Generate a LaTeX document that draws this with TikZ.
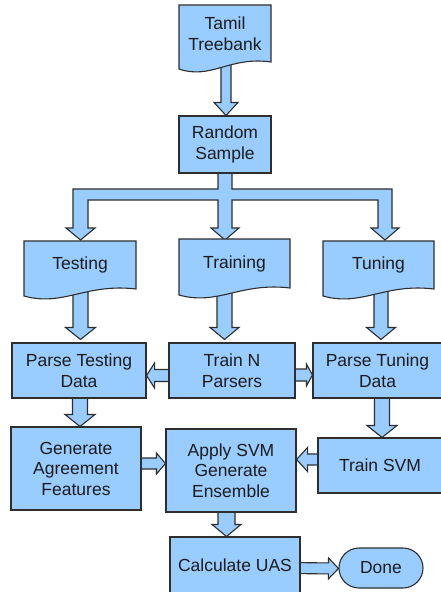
\documentclass[tikz,border=0pt]{standalone}
\usepackage{fontspec}
\setmainfont{Liberation Sans}
\usetikzlibrary{calc}
\pgfdeclarelayer{back}
\pgfdeclarelayer{bg}
\pgfsetlayers{back,bg,main}
\definecolor{boxfill}{HTML}{99CCFF}
\definecolor{boxline}{HTML}{2E2E2E}
\definecolor{txtcol}{HTML}{1C1C1C}
\tikzset{
  shp/.style={draw=boxline, fill=boxfill, line width=1.1pt, line join=miter},
  txt/.style={text=txtcol, align=center, inner sep=0pt, font=\fontsize{17.5}{20.5}\selectfont},
  blk/.style={shp, txt, inner sep=0pt},
  arr/.style={draw=boxline, fill=boxfill, line width=1.1pt, line join=miter},
}
% block arrow: from, to, shaft half width, head half width, head length
\newcommand\barrow[5]{%
  \coordinate (bA) at (#1);
  \coordinate (bB) at (#2);
  \coordinate (bH) at ($(bB)!#5pt!(bA)$);
  \draw[arr] ($(bA)!#3pt!90:(bB)$) -- ($(bH)!#3pt!-90:(bA)$) -- ($(bH)!#4pt!-90:(bA)$) -- (bB)
    -- ($(bH)!#4pt!90:(bA)$) -- ($(bH)!#3pt!90:(bA)$) -- ($(bA)!#3pt!-90:(bB)$) -- cycle;}
% document shape: name, xl, xr, top, bottom-right y, text
\newcommand\docshape[6]{%
  \draw[shp] (#2,#4) -- (#3,#4) -- (#3,#5)
    .. controls ({#3-0.45*(#3-#2)},{#5-6}) and ({#2+0.35*(#3-#2)},{#5+18}) .. (#2,{#5+7}) -- cycle;
  \node[txt] (#1) at ({(#2+#3)/2},{(#4+#5)/2}) {#6};}
\begin{document}
\begin{tikzpicture}[x=1pt,y=-1pt]
\useasboundingbox (0,0) rectangle (441,592);
\begin{pgfonlayer}{back}
\fill[white] (0,0) rectangle (441,592);
\end{pgfonlayer}
\clip (0,0) rectangle (441,592);

% documents
\docshape{tb}{179}{271}{5}{62}{Tamil\\Treebank}
\docshape{test}{24}{136}{241}{289}{Testing}
\docshape{train}{179}{290}{239}{288}{Training}
\docshape{tune}{323}{434}{241}{289}{Tuning}

% process boxes
\node[blk, minimum width=92pt, minimum height=57pt] (rs) at (225,144.5) {Random\\Sample};
\node[blk, minimum width=134pt, minimum height=55pt] (pt) at (79,370.5) {Parse Testing\\Data};
\node[blk, minimum width=126pt, minimum height=55pt] (tn) at (232,370.5) {Train N\\Parsers};
\node[blk, minimum width=129pt, minimum height=55pt] (ptu) at (377.5,370.5) {Parse Tuning\\Data};
\node[blk, minimum width=130pt, minimum height=83pt] (gen) at (76,468.5) {Generate\\Agreement\\Features};
\node[blk, minimum width=130pt, minimum height=83pt] (app) at (231,470.5) {Apply SVM\\Generate\\Ensemble};
\node[blk, minimum width=124pt, minimum height=55pt] (tsvm) at (380,465.5) {Train SVM};
\node[blk, minimum width=130pt, minimum height=56pt] (calc) at (235,565) {Calculate UAS};
\node[blk, minimum width=84pt, minimum height=40pt, rounded corners=20pt] (done) at (381,568) {Done};

\begin{pgfonlayer}{bg}
  \barrow{[xshift=1pt]tb.center}{[xshift=1pt]rs.north}{5}{12}{13}
  % split from Random Sample
  \draw[arr] ($(rs.center)+(-7,0)$) -- (218,189) -- (73,189) -- (73,228) -- (66,228) -- (80.5,240)
    -- (95,228) -- (88,228) -- (88,200) -- (218,200) -- (218,228) -- (211,228) -- (225,240)
    -- (239,228) -- (232,228) -- (232,200) -- (378,200) -- (378,228) -- (371,228) -- (385,240)
    -- (399,228) -- (392,228) -- (392,189) -- (232,189) -- ($(rs.center)+(7,0)$) -- cycle;
  \barrow{[xshift=0.5pt]test.center}{[xshift=1.5pt,yshift=3pt]pt.north}{7.5}{15}{12}
  \barrow{[xshift=-10pt]train.center}{[xshift=-7.5pt,yshift=3pt]tn.north}{7.5}{14.5}{12}
  \barrow{[xshift=2.5pt]tune.center}{[xshift=3.5pt,yshift=3pt]ptu.north}{7}{14.5}{12}
  \barrow{[yshift=-5pt]tn.center}{[yshift=-5pt]pt.east}{6}{12.5}{8}
  \barrow{[yshift=-4.5pt]tn.center}{[yshift=-4.5pt]ptu.west}{6}{11}{6}
  \barrow{[xshift=1pt]pt.center}{[xshift=4pt]gen.north}{7.5}{15}{12}
  \barrow{[xshift=4.5pt]ptu.center}{[xshift=2pt]tsvm.north}{7.5}{15}{12}
  \barrow{[yshift=5pt]gen.center}{[yshift=7pt]app.west}{5.5}{10.5}{9}
  \barrow{[yshift=6pt]tsvm.center}{[yshift=11pt]app.east}{5.5}{12}{11}
  \barrow{[xshift=-4.5pt]app.center}{[xshift=-8.5pt]calc.north}{8.5}{14.5}{12}
  \barrow{[yshift=-2.5pt]calc.center}{[yshift=-0.5pt]done.west}{5.5}{10.5}{10}
\end{pgfonlayer}
\end{tikzpicture}
\end{document}
